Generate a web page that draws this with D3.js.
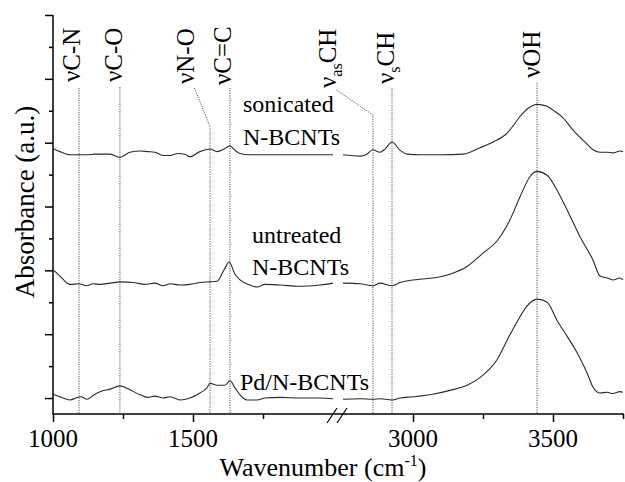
<!DOCTYPE html>
<html>
<head>
<meta charset="utf-8">
<script src="https://cdn.jsdelivr.net/npm/d3@7"></script>
<style>
  html, body { margin: 0; padding: 0; background: #fff; }
  svg { display: block; }
  text { font-family: "Liberation Serif", "Times New Roman", serif; fill: #000; }
</style>
</head>
<body>
<svg id="chart" width="625" height="482"></svg>
<script>
// ---------------- DATA ----------------
const leftDomain = [1000, 2000];
const rightDomain = [2750, 3750];
const leftMajorTicks = [1000, 1500];
const leftMinorTicks = [1250, 1750];
const rightMajorTicks = [3000, 3500];
const rightMinorTicks = [3250, 3750];
const yMajorTicks = [0, 1, 2, 3, 4, 5, 6];
const yMinorTicks = [0.5, 1.5, 2.5, 3.5, 4.5, 5.5];

const sonicated = [
  [1000,3.91],[1025,3.86],[1061,3.81],[1093,3.81],[1121,3.81],[1150,3.82],[1168,3.82],[1204,3.82],
  [1239,3.77],[1275,3.85],[1311,3.87],[1339,3.86],[1364,3.85],[1393,3.80],[1418,3.80],[1446,3.83],
  [1471,3.82],[1489,3.78],[1525,3.86],[1561,3.90],[1586,3.86],[1611,3.90],[1632,3.95],[1650,3.88],
  [1668,3.83],[1704,3.81],[1757,3.81],[1811,3.81],[1882,3.81],[1954,3.81],[2000,3.81],
  [2750,3.81],[2811,3.79],[2835,3.82],[2856,3.89],[2882,3.85],[2900,3.90],[2925,4.01],[2954,3.88],
  [2979,3.82],[3025,3.81],[3100,3.81],[3179,3.82],[3239,3.92],[3286,4.01],[3336,4.15],[3357,4.26],
  [3382,4.41],[3418,4.56],[3443,4.60],[3479,4.57],[3500,4.51],[3536,4.39],[3571,4.20],[3621,3.98],
  [3643,3.89],[3668,3.85],[3693,3.85],[3714,3.84],[3739,3.87],[3750,3.86]
];
const untreated = [
  [1000,2.01],[1025,1.91],[1061,1.78],[1093,1.79],[1121,1.76],[1143,1.79],[1168,1.78],[1204,1.80],
  [1239,1.82],[1286,1.81],[1329,1.78],[1364,1.80],[1393,1.76],[1418,1.79],[1454,1.77],[1489,1.78],
  [1525,1.81],[1561,1.82],[1586,1.83],[1611,2.01],[1629,2.13],[1650,1.94],[1668,1.85],[1704,1.77],
  [1729,1.74],[1757,1.78],[1811,1.77],[1882,1.75],[1954,1.77],[2000,1.80],
  [2750,1.80],[2811,1.79],[2857,1.76],[2882,1.80],[2925,1.76],[2954,1.81],[3025,1.86],[3071,1.88],
  [3132,1.94],[3193,2.06],[3250,2.27],[3300,2.46],[3346,2.79],[3382,3.15],[3418,3.47],[3443,3.55],
  [3479,3.49],[3514,3.26],[3550,2.95],[3596,2.53],[3643,2.16],[3668,1.91],[3693,1.88],[3714,1.85],
  [3739,1.88],[3750,1.85]
];
const pdNBCNTs = [
  [1000,0.06],[1025,0.02],[1061,-0.03],[1082,0.00],[1100,0.02],[1121,-0.02],[1150,0.06],[1168,0.10],
  [1204,0.14],[1239,0.19],[1275,0.13],[1311,0.05],[1339,0.01],[1364,0.03],[1393,0.00],[1418,0.02],
  [1454,-0.03],[1489,0.00],[1525,0.08],[1550,0.16],[1561,0.23],[1586,0.20],[1614,0.20],[1632,0.27],
  [1650,0.16],[1668,0.05],[1693,-0.03],[1729,-0.03],[1757,0.00],[1811,0.01],[1882,0.00],[1954,0.00],
  [2000,-0.01],
  [2750,-0.02],[2811,-0.01],[2857,-0.02],[2882,-0.01],[2925,-0.03],[2954,0.00],[3000,0.02],[3071,0.06],
  [3132,0.12],[3193,0.20],[3239,0.32],[3300,0.60],[3346,0.99],[3375,1.22],[3407,1.44],[3443,1.55],
  [3479,1.50],[3514,1.22],[3550,0.97],[3586,0.71],[3621,0.40],[3643,0.17],[3668,0.08],[3693,0.09],
  [3714,0.07],[3739,0.10],[3750,0.09]
];

const seriesLabelLines = [["sonicated", "N-BCNTs"], ["untreated", "N-BCNTs"], ["Pd/N-BCNTs"]];

// band annotations
const bandWavenumbers = [1093, 1239, 1561, 1632, 2857, 2925, 3443];
const bandLabelParts = [
  [["νC-N", false]],
  [["νC-O", false]],
  [["νN-O", false]],
  [["νC=C", false]],
  [["ν", false], ["as", true], ["CH", false]],
  [["ν", false], ["s", true], ["CH", false]],
  [["νOH", false]]
];

// ---------------- LAYOUT ----------------
const svg = d3.select("#chart");
const xL = d3.scaleLinear().domain(leftDomain).range([53, 333]);
const xR = d3.scaleLinear().domain(rightDomain).range([343, 623]);
const y = d3.scaleLinear().domain([-0.25, 6]).range([414, 15]);
const xOf = w => (w <= leftDomain[1] ? xL(w) : xR(w));
const axisY = y(-0.25);

// ---------------- AXES ----------------
const axG = svg.append("g").attr("class", "axes");
function styleAxis(g) {
  g.select(".domain").remove();
  g.selectAll(".tick line").attr("stroke", "#000").attr("stroke-width", 1.5);
  g.selectAll(".tick text").remove();
}
axG.append("g").attr("transform", `translate(0,${axisY})`)
  .call(d3.axisBottom(xL).tickValues(leftMajorTicks).tickSize(8)).call(styleAxis);
axG.append("g").attr("transform", `translate(0,${axisY})`)
  .call(d3.axisBottom(xL).tickValues(leftMinorTicks).tickSize(5)).call(styleAxis);
axG.append("g").attr("transform", `translate(0,${axisY})`)
  .call(d3.axisBottom(xR).tickValues(rightMajorTicks).tickSize(8)).call(styleAxis);
axG.append("g").attr("transform", `translate(0,${axisY})`)
  .call(d3.axisBottom(xR).tickValues(rightMinorTicks).tickSize(5)).call(styleAxis);
axG.append("g").attr("transform", `translate(${xL(1000)},0)`)
  .call(d3.axisLeft(y).tickValues(yMajorTicks).tickSize(8)).call(styleAxis);
axG.append("g").attr("transform", `translate(${xL(1000)},0)`)
  .call(d3.axisLeft(y).tickValues(yMinorTicks).tickSize(4)).call(styleAxis);

axG.append("line").attr("x1", xL(1000) - 0.75).attr("x2", xR(3750) + 0.75)
  .attr("y1", axisY).attr("y2", axisY).attr("stroke", "#000").attr("stroke-width", 1.5);
axG.append("line").attr("x1", xL(1000)).attr("x2", xL(1000))
  .attr("y1", y(6)).attr("y2", axisY).attr("stroke", "#000").attr("stroke-width", 1.5);

// break marks
[xL(2000), xR(2750)].forEach(bx => {
  axG.append("line").attr("x1", bx - 6).attr("y1", axisY + 9)
    .attr("x2", bx + 4).attr("y2", axisY - 6).attr("stroke", "#000").attr("stroke-width", 1.2);
});

// tick labels
const tickLabelG = svg.append("g");
leftMajorTicks.forEach(t => tickLabelG.append("text").attr("x", xL(t)).attr("y", 447)
  .attr("text-anchor", "middle").attr("font-size", 25).text(t));
rightMajorTicks.forEach(t => tickLabelG.append("text").attr("x", xR(t)).attr("y", 447)
  .attr("text-anchor", "middle").attr("font-size", 25).text(t));

// axis titles
const xt = svg.append("text").attr("x", 323).attr("y", 476).attr("text-anchor", "middle").attr("font-size", 26);
xt.append("tspan").text("Wavenumber (cm");
xt.append("tspan").attr("font-size", 16).attr("dy", -10).text("-1");
xt.append("tspan").attr("dy", 10).text(")");

svg.append("text").attr("transform", "translate(34,202) rotate(-90)")
  .attr("text-anchor", "middle").attr("font-size", 27).text("Absorbance (a.u.)");

// ---------------- BAND ANNOTATIONS ----------------
const annG = svg.append("g");
const bandLabelX = [86, 128, 200, 237, 342, 400, 546];
const bandLabelBottom = [82, 82, 84, 85, 88, 84, 78];
const bandLeaderTop = [88, 87, 88, 88, 90, 88, 83];
bandWavenumbers.forEach((w, i) => {
  const lx = xOf(w);
  const labelCx = bandLabelX[i] - 8.5;
  const slanted = Math.abs(labelCx - lx) > 6;
  let pts;
  if (slanted) {
    const kneeY = i === 2 ? 127 : 115;
    pts = [[labelCx + 3, bandLeaderTop[i]], [lx, kneeY], [lx, axisY]];
  } else {
    pts = [[lx, bandLeaderTop[i]], [lx, axisY]];
  }
  annG.append("path").attr("d", d3.line()(pts)).attr("fill", "none")
    .attr("stroke", "#555").attr("stroke-width", 1).attr("stroke-dasharray", "1.2,1.2");
  const t = annG.append("text").attr("transform", `translate(${bandLabelX[i]},${bandLabelBottom[i]}) rotate(-90)`)
    .attr("font-size", 25);
  bandLabelParts[i].forEach(([s, sub]) => {
    if (sub) t.append("tspan").attr("font-size", 16).attr("dy", 6).text(s);
    else t.append("tspan").attr("font-size", 25).attr("dy", t.selectAll("tspan").size() > 0 ? -6 : 0).text(s);
  });
});

// ---------------- SPECTRA ----------------
const lineL = d3.line().curve(d3.curveMonotoneX).x(d => xL(d[0])).y(d => y(d[1]));
const lineR = d3.line().curve(d3.curveMonotoneX).x(d => xR(d[0])).y(d => y(d[1]));
const specG = svg.append("g");
[sonicated, untreated, pdNBCNTs].forEach(s => {
  specG.append("path").attr("d", lineL(s.filter(d => d[0] <= leftDomain[1])))
    .attr("fill", "none").attr("stroke", "#2a2a2a").attr("stroke-width", 1.1);
  specG.append("path").attr("d", lineR(s.filter(d => d[0] >= rightDomain[0])))
    .attr("fill", "none").attr("stroke", "#2a2a2a").attr("stroke-width", 1.1);
});

// series labels
const labelPos = [[243, 112, 33], [252, 243, 32], [240, 390, 0]];
seriesLabelLines.forEach((lines, i) => {
  lines.forEach((ln, j) => {
    svg.append("text").attr("x", labelPos[i][0])
      .attr("y", labelPos[i][1] + j * labelPos[i][2])
      .attr("font-size", 24).text(ln);
  });
});
</script>
</body>
</html>
